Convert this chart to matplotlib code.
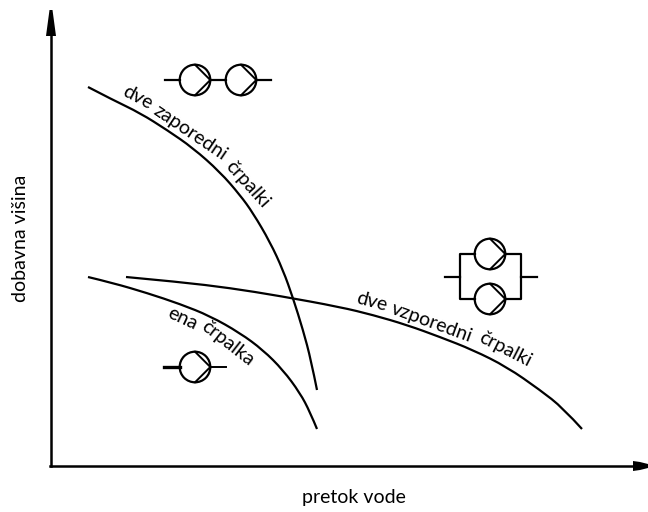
import numpy as np
import matplotlib
matplotlib.use("Agg")
import matplotlib.pyplot as plt
from matplotlib.patches import Circle, PathPatch, Polygon
from matplotlib.path import Path

# curves, in picture pixels
zaporedni_x = [88, 113, 140, 167, 193, 220, 240, 253, 270, 283, 293, 303, 311, 317]
zaporedni_y = [87, 100, 113, 130, 148, 172, 195, 213, 242, 270, 298, 330, 360, 390]
ena_x = [88, 113, 147, 180, 210, 240, 263, 283, 300, 310, 317]
ena_y = [277, 283, 293, 304, 316, 333, 350, 370, 393, 412, 429]
vzporedni_x = [126, 180, 230, 280, 340, 373, 407, 440, 473, 507, 540, 563, 582]
vzporedni_y = [277, 282, 288, 296, 307, 315, 325, 337, 350, 367, 390, 408, 429]

xlabel = "pretok vode"
ylabel = "dobavna višina"
words_top = [("dve", 138, 98, -28), ("zaporedni", 190, 133, -34), ("črpalki", 247, 184, -48)]
words_mid = [("dve", 372, 302, -15), ("vzporedni", 432, 323, -20), ("črpalki", 505, 349, -27)]
words_low = [("ena", 183, 319, -25), ("črpalka", 228, 343, -38)]

LW = 1.6


def smooth(ax, x, y):
    # quadratic beziers with the read points as controls, keeps the ends
    pts = list(zip(x, y))
    verts = [pts[0]]
    codes = [Path.MOVETO]
    for i in range(1, len(pts) - 1):
        if i < len(pts) - 2:
            end = ((pts[i][0] + pts[i + 1][0]) / 2, (pts[i][1] + pts[i + 1][1]) / 2)
        else:
            end = pts[-1]
        verts += [pts[i], end]
        codes += [Path.CURVE3, Path.CURVE3]
    ax.add_patch(PathPatch(Path(verts, codes), fill=False, ec="k", lw=LW))


def pump(ax, cx, cy, r=15.3):
    ax.add_patch(Circle((cx, cy), r, fill=False, ec="k", lw=LW))
    ax.plot([cx, cx + r, cx], [cy - r, cy, cy + r], color="k", lw=1.4)


def main():
    plt.rcParams["font.family"] = ["Lato", "DejaVu Sans"]
    fig = plt.figure(figsize=(6.48, 5.12), dpi=100)
    ax = fig.add_axes([0, 0, 1, 1])
    ax.set_xlim(0, 648)
    ax.set_ylim(512, 0)
    ax.axis("off")

    smooth(ax, zaporedni_x, zaporedni_y)
    smooth(ax, ena_x, ena_y)
    smooth(ax, vzporedni_x, vzporedni_y)

    # axes with arrows
    ax.plot([51, 51], [466, 30], color="k", lw=1.8)
    ax.plot([50, 640], [466, 466], color="k", lw=1.8)
    ax.add_patch(Polygon([(49.5, 10), (52.5, 10), (56, 36), (46, 36)], fc="k", ec="none"))
    ax.add_patch(Polygon([(633, 461), (640, 462), (648, 464), (648, 468), (640, 470), (633, 471)], fc="k", ec="none"))

    ax.text(354, 498, xlabel, fontsize=14, ha="center", va="center")
    ax.text(21, 238, ylabel, fontsize=14, ha="center", va="center", rotation=90)

    for word, x, y, rot in words_top + words_mid + words_low:
        ax.text(x, y, word, fontsize=14, ha="center", va="center", rotation=rot, rotation_mode="anchor")

    # two pumps in series
    pump(ax, 195, 80)
    pump(ax, 241, 80)
    ax.plot([165, 180], [80, 80], color="k", lw=LW)
    ax.plot([210, 226], [80, 80], color="k", lw=LW)
    ax.plot([256, 271], [80, 80], color="k", lw=LW)

    # one pump
    pump(ax, 195, 367)
    ax.plot([164, 180], [367, 367], color="k", lw=2.4)
    ax.plot([210, 226], [367, 367], color="k", lw=1.4)

    # two pumps in parallel
    pump(ax, 490, 254)
    pump(ax, 490, 299)
    ax.plot([475, 460, 460, 475], [254, 254, 299, 299], color="k", lw=LW)
    ax.plot([505, 521, 521, 505], [254, 254, 299, 299], color="k", lw=LW)
    ax.plot([445, 460], [277, 277], color="k", lw=LW)
    ax.plot([521, 537], [277, 277], color="k", lw=LW)

    fig.savefig("out.png", dpi=100)


if __name__ == "__main__":
    main()
